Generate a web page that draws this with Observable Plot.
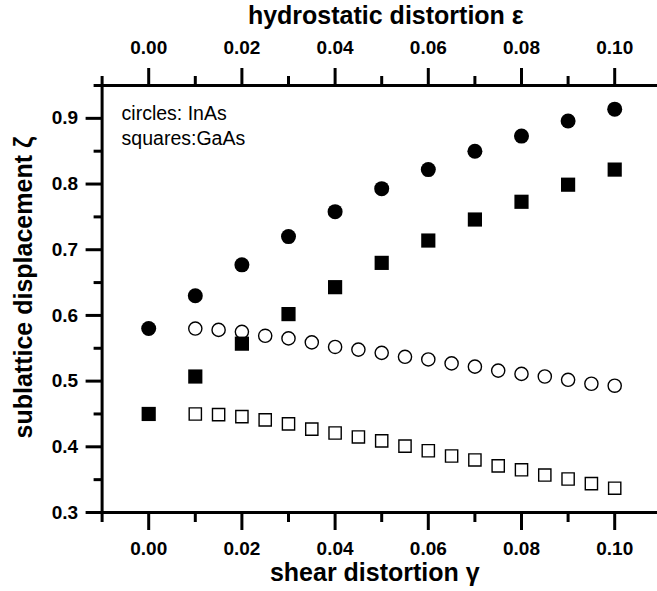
<!DOCTYPE html>
<html>
<head>
<meta charset="utf-8">
<script src="https://cdn.jsdelivr.net/npm/d3@7"></script>
<script src="https://cdn.jsdelivr.net/npm/@observablehq/plot@0.6"></script>
<style>
  html, body { margin: 0; padding: 0; background: #fff; overflow: hidden; }
  svg { overflow: hidden; }
</style>
</head>
<body>
<div id="chart"></div>
<script>
// Hydrostatic distortion epsilon (filled symbols)
const epsHydro  = [0.00, 0.01, 0.02, 0.03, 0.04, 0.05, 0.06, 0.07, 0.08, 0.09, 0.10];
const inasHydro = [0.580, 0.630, 0.677, 0.720, 0.758, 0.793, 0.822, 0.850, 0.873, 0.896, 0.914];
const gaasHydro = [0.450, 0.507, 0.557, 0.602, 0.643, 0.680, 0.714, 0.746, 0.773, 0.799, 0.822];

// Shear distortion gamma (open symbols)
const gammaShear = [0.010, 0.015, 0.020, 0.025, 0.030, 0.035, 0.040, 0.045, 0.050, 0.055,
                    0.060, 0.065, 0.070, 0.075, 0.080, 0.085, 0.090, 0.095, 0.100];
const inasShear  = [0.580, 0.578, 0.575, 0.569, 0.565, 0.559, 0.552, 0.548, 0.543, 0.537,
                    0.533, 0.527, 0.522, 0.516, 0.511, 0.507, 0.502, 0.496, 0.493];
const gaasShear  = [0.450, 0.449, 0.446, 0.441, 0.435, 0.427, 0.421, 0.415, 0.409, 0.401,
                    0.394, 0.386, 0.380, 0.371, 0.365, 0.357, 0.351, 0.344, 0.337];

// Ticks and labels
const majorX = [0.00, 0.02, 0.04, 0.06, 0.08, 0.10];
const minorX = [-0.01, 0.01, 0.03, 0.05, 0.07, 0.09];
const majorY = [0.3, 0.4, 0.5, 0.6, 0.7, 0.8, 0.9];
const minorY = [0.35, 0.45, 0.55, 0.65, 0.75, 0.85, 0.95];
const titleBottom = ["shear distortion γ"];
const titleTop = ["hydrostatic distortion ε"];
const titleLeft = ["sublattice displacement ζ"];
const legendLines = ["circles: InAs\nsquares:GaAs"];

const hydroInAs = epsHydro.map((x, i) => ({x, y: inasHydro[i]}));
const hydroGaAs = epsHydro.map((x, i) => ({x, y: gaasHydro[i]}));
const shearInAs = gammaShear.map((x, i) => ({x, y: inasShear[i]}));
const shearGaAs = gammaShear.map((x, i) => ({x, y: gaasShear[i]}));

const FONT = "Liberation Sans, Arial, Helvetica, sans-serif";
const tickFont = {fontSize: 19, fontWeight: "bold", fontFamily: FONT};
const titleFont = {fontSize: 25, fontWeight: "bold", fill: "black", textAnchor: "middle", lineAnchor: "bottom"};

const chart = Plot.plot({
  width: 657,
  height: 591,
  marginLeft: 101.6,
  marginRight: 0,
  marginTop: 85,
  marginBottom: 79,
  x: {domain: [-0.01, 0.11], range: [101.6, 660.8]},
  y: {domain: [0.3, 0.95], range: [512, 85]},
  style: {fontFamily: FONT, fontSize: "19px", color: "black", background: "white"},
  marks: [
    // axis lines
    Plot.ruleY([0.3], {stroke: "black", strokeWidth: 3}),
    Plot.ruleY([0.95], {stroke: "black", strokeWidth: 3}),
    Plot.ruleX([-0.01], {stroke: "black", strokeWidth: 3}),
    // bottom axis
    Plot.axisX({anchor: "bottom", ticks: majorX, tickSize: 18, tickPadding: 11,
      tickFormat: d3.format(".2f"), strokeWidth: 3, label: null, ...tickFont}),
    Plot.axisX({anchor: "bottom", ticks: minorX, tickSize: 10,
      tickFormat: () => "", strokeWidth: 3, label: null}),
    // top axis
    Plot.axisX({anchor: "top", ticks: majorX, tickSize: 18, tickPadding: 14,
      tickFormat: d3.format(".2f"), strokeWidth: 3, label: null, ...tickFont}),
    Plot.axisX({anchor: "top", ticks: minorX, tickSize: 10,
      tickFormat: () => "", strokeWidth: 3, label: null}),
    // left axis
    Plot.axisY({anchor: "left", ticks: majorY, tickSize: 16, tickPadding: 8,
      tickFormat: d3.format(".1f"), strokeWidth: 3, label: null, ...tickFont}),
    Plot.axisY({anchor: "left", ticks: minorY, tickSize: 8,
      tickFormat: () => "", strokeWidth: 3, label: null}),
    // axis titles
    Plot.text(titleBottom, {frameAnchor: "bottom", dx: -5, dy: 68, ...titleFont}),
    Plot.text(titleTop, {frameAnchor: "top", dx: 6, dy: -62, ...titleFont}),
    Plot.text(titleLeft, {frameAnchor: "left", dx: -70, dy: -11.5, rotate: -90, ...titleFont}),
    // legend note
    Plot.text(legendLines, {frameAnchor: "top-left", textAnchor: "start", lineAnchor: "top",
      dx: 19.5, dy: 17, fontSize: 19.5, lineHeight: 1.26, fill: "black"}),
    // data
    Plot.dot(shearInAs, {x: "x", y: "y", symbol: "circle", r: 6.6, stroke: "black", strokeWidth: 1.4, fill: "white"}),
    Plot.dot(shearGaAs, {x: "x", y: "y", symbol: "square", r: 6.9, stroke: "black", strokeWidth: 1.4, fill: "white"}),
    Plot.dot(hydroInAs, {x: "x", y: "y", symbol: "circle", r: 7.5, fill: "black", stroke: "none"}),
    Plot.dot(hydroGaAs, {x: "x", y: "y", symbol: "square", r: 8, fill: "black", stroke: "none"})
  ]
});
document.getElementById("chart").appendChild(chart);
</script>
</body>
</html>
